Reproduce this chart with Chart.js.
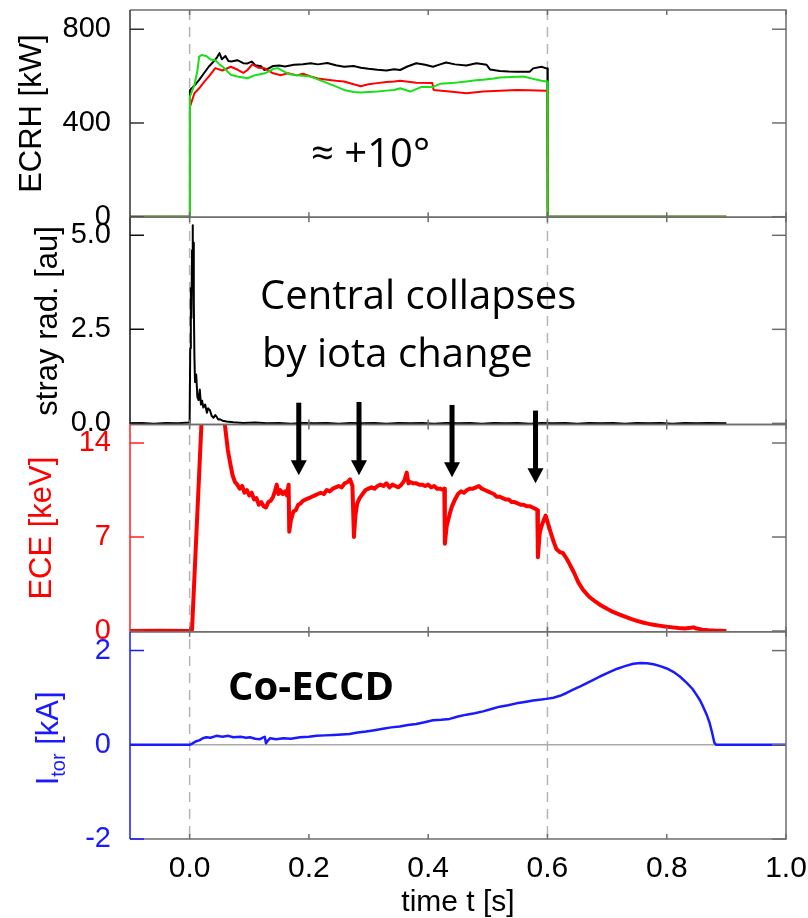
<!DOCTYPE html>
<html>
<head>
<meta charset="utf-8">
<title>ECRH / ECE / Itor</title>
<script src="https://cdn.jsdelivr.net/npm/chart.js@4.4.1/dist/chart.umd.min.js"></script>
<style>
    html, body { margin: 0; padding: 0; background: #ffffff; }
    canvas { display: block; }
</style>
</head>
<body>
<canvas id="myChart_descarga" width="808" height="918"></canvas>
<script>
// ---------------- datos: [tiempo (s), valor] ----------------
const ecrhNegro = [[-0.1,0],[0.0,0],[0.0005,540],[0.005,552],[0.01,566],[0.016,584],[0.024,612],[0.032,640],[0.04,662],[0.046,680],[0.05,698],[0.054,672],[0.06,686],[0.065,664],[0.07,662],[0.08,668],[0.09,655],[0.097,654],[0.104,662],[0.11,646],[0.12,642],[0.125,626],[0.13,630],[0.14,643],[0.15,645],[0.16,641],[0.175,648],[0.19,651],[0.203,655],[0.215,650],[0.231,656],[0.245,646],[0.259,640],[0.275,643],[0.287,636],[0.3,631],[0.315,627],[0.33,624],[0.343,629],[0.353,626],[0.365,641],[0.38,655],[0.395,648],[0.408,640],[0.42,650],[0.43,658],[0.445,650],[0.464,645],[0.481,655],[0.498,648],[0.504,628],[0.52,622],[0.535,620],[0.548,619],[0.57,618],[0.576,633],[0.59,640],[0.598,633],[0.6,632],[0.6005,0],[0.9,0]];
const ecrhRojo = [[-0.1,0],[0.0,0],[0.0005,468],[0.008,527],[0.016,548],[0.024,574],[0.032,598],[0.043,634],[0.055,624],[0.069,640],[0.08,628],[0.09,614],[0.097,626],[0.105,650],[0.115,636],[0.126,633],[0.14,612],[0.153,604],[0.165,612],[0.18,603],[0.19,610],[0.203,598],[0.215,590],[0.231,584],[0.245,580],[0.259,577],[0.275,565],[0.287,557],[0.3,565],[0.315,570],[0.33,575],[0.343,577],[0.353,580],[0.38,572],[0.407,570],[0.409,541],[0.436,534],[0.464,527],[0.48,531],[0.492,534],[0.52,537],[0.548,541],[0.57,540],[0.598,537],[0.6,537],[0.6005,0],[0.9,0]];
const ecrhVerde = [[-0.1,0],[0.0,0],[0.0005,512],[0.008,562],[0.013,622],[0.016,683],[0.02,690],[0.028,686],[0.035,671],[0.043,668],[0.05,650],[0.055,641],[0.069,606],[0.08,598],[0.097,591],[0.11,604],[0.126,612],[0.14,630],[0.147,634],[0.153,627],[0.165,610],[0.175,605],[0.19,601],[0.203,598],[0.215,586],[0.231,570],[0.245,556],[0.259,541],[0.275,532],[0.287,530],[0.3,532],[0.315,534],[0.33,538],[0.343,541],[0.353,548],[0.37,534],[0.388,553],[0.407,553],[0.42,567],[0.44,570],[0.464,577],[0.48,582],[0.492,584],[0.51,590],[0.52,594],[0.54,596],[0.56,598],[0.576,588],[0.59,580],[0.598,577],[0.6,577],[0.6005,0],[0.9,0]];

const radiacion = [[-0.1,0],[-0.08,0.01],[-0.06,-0.01],[-0.04,0.01],[-0.02,0],[0,0.02],[0.001,2.0],[0.002,3.6],[0.003,2.8],[0.004,4.6],[0.005,5.27],[0.0055,4.2],[0.006,4.8],[0.007,3.2],[0.008,1.8],[0.009,1.1],[0.011,1.3],[0.013,0.7],[0.015,0.62],[0.017,0.9],[0.019,0.5],[0.021,0.6],[0.023,0.42],[0.026,0.5],[0.029,0.28],[0.031,0.4],[0.034,0.35],[0.037,0.2],[0.04,0.15],[0.043,0.22],[0.045,0.18],[0.048,0.1],[0.051,0.11],[0.055,0.07],[0.062,0.05],[0.073,0.03],[0.09,0.01],[0.11,0.02],[0.13,0],[0.15,0.01],[0.17,-0.01],[0.19,0.01],[0.21,0],[0.23,0.01],[0.25,-0.01],[0.27,0.01],[0.29,0],[0.31,0.01],[0.33,-0.01],[0.35,0.01],[0.37,0],[0.39,0.01],[0.41,-0.01],[0.43,0.01],[0.45,0],[0.47,0.01],[0.49,-0.01],[0.51,0.01],[0.53,0],[0.55,0.01],[0.57,-0.01],[0.59,0.01],[0.61,0],[0.63,0.01],[0.65,-0.01],[0.67,0.01],[0.69,0],[0.71,0.01],[0.73,-0.01],[0.75,0.01],[0.77,0],[0.79,0.01],[0.81,-0.01],[0.83,0.01],[0.85,0],[0.87,0.01],[0.9,0]];

const ece = [[-0.1,0],[-0.05,0.02],[0.0,0],[0.004,0.1],[0.02,15.6],[0.03,16.5],[0.045,16.5],[0.055,16.0],[0.059,15.4],[0.064,13.5],[0.068,12.5],[0.072,11.6],[0.076,11.1],[0.08,10.9],[0.084,10.6],[0.088,10.8],[0.092,10.3],[0.096,10.5],[0.1,10.1],[0.104,10.3],[0.108,9.8],[0.112,9.9],[0.116,9.4],[0.12,9.6],[0.124,9.3],[0.128,9.2],[0.132,9.6],[0.136,9.7],[0.14,10.0],[0.143,10.4],[0.146,10.9],[0.149,10.2],[0.152,10.5],[0.156,10.2],[0.16,10.4],[0.163,10.1],[0.166,10.9],[0.167,7.4],[0.17,8.3],[0.174,8.9],[0.178,9.0],[0.182,9.4],[0.186,9.5],[0.19,9.7],[0.195,9.8],[0.2,9.9],[0.205,10.0],[0.21,10.1],[0.215,10.2],[0.22,10.3],[0.225,10.2],[0.23,10.5],[0.235,10.4],[0.24,10.6],[0.245,10.7],[0.25,10.8],[0.255,10.7],[0.26,11.0],[0.265,11.1],[0.269,11.3],[0.273,10.8],[0.2755,7.0],[0.278,8.6],[0.281,9.5],[0.285,9.9],[0.29,10.2],[0.295,10.5],[0.3,10.6],[0.305,10.7],[0.31,10.6],[0.315,10.8],[0.32,10.9],[0.325,10.8],[0.33,11.0],[0.335,10.7],[0.34,10.9],[0.345,10.8],[0.35,10.7],[0.355,10.9],[0.36,11.2],[0.364,11.8],[0.367,11.0],[0.37,11.1],[0.375,11.0],[0.38,11.0],[0.385,10.9],[0.39,10.9],[0.395,10.8],[0.4,10.9],[0.405,10.7],[0.41,10.8],[0.415,10.6],[0.42,10.6],[0.425,10.5],[0.427,10.6],[0.428,6.5],[0.431,7.8],[0.436,8.7],[0.44,9.3],[0.445,9.8],[0.45,10.2],[0.455,10.4],[0.46,10.3],[0.465,10.5],[0.47,10.6],[0.475,10.6],[0.48,10.7],[0.485,10.8],[0.49,10.6],[0.495,10.5],[0.5,10.4],[0.505,10.3],[0.51,10.2],[0.515,10.0],[0.52,10.0],[0.525,9.9],[0.53,9.8],[0.535,9.8],[0.54,9.6],[0.545,9.6],[0.55,9.5],[0.555,9.4],[0.56,9.4],[0.565,9.3],[0.57,9.3],[0.575,9.2],[0.58,9.1],[0.583,9.0],[0.584,5.5],[0.587,7.3],[0.59,7.8],[0.594,8.3],[0.597,8.6],[0.601,8.0],[0.605,7.4],[0.61,6.7],[0.615,6.1],[0.62,5.9],[0.626,5.8],[0.632,5.4],[0.637,5.0],[0.645,4.3],[0.652,3.6],[0.66,3.05],[0.67,2.55],[0.68,2.2],[0.69,1.9],[0.7,1.65],[0.71,1.42],[0.72,1.24],[0.73,1.07],[0.74,0.9],[0.75,0.76],[0.76,0.63],[0.77,0.53],[0.78,0.45],[0.79,0.38],[0.8,0.32],[0.81,0.27],[0.82,0.22],[0.83,0.19],[0.84,0.24],[0.845,0.27],[0.85,0.18],[0.86,0.1],[0.87,0.06],[0.88,0.03],[0.9,0.0]];

const corriente = [[-0.1,0],[0,0],[0.005,0.03],[0.01,0.07],[0.017,0.1],[0.022,0.14],[0.028,0.16],[0.035,0.15],[0.045,0.19],[0.055,0.17],[0.065,0.19],[0.073,0.16],[0.085,0.17],[0.095,0.15],[0.101,0.16],[0.11,0.13],[0.118,0.12],[0.124,0.16],[0.126,0.17],[0.128,0.03],[0.132,0.1],[0.135,0.14],[0.145,0.12],[0.157,0.14],[0.17,0.13],[0.185,0.16],[0.2,0.17],[0.213,0.19],[0.227,0.2],[0.241,0.21],[0.255,0.22],[0.268,0.23],[0.282,0.26],[0.296,0.28],[0.31,0.31],[0.324,0.34],[0.338,0.37],[0.352,0.39],[0.366,0.42],[0.38,0.44],[0.394,0.48],[0.408,0.52],[0.422,0.53],[0.436,0.55],[0.45,0.6],[0.464,0.64],[0.478,0.67],[0.492,0.71],[0.506,0.76],[0.52,0.81],[0.534,0.84],[0.548,0.88],[0.562,0.91],[0.576,0.94],[0.59,0.96],[0.598,0.975],[0.61,1.0],[0.621,1.04],[0.632,1.1],[0.643,1.17],[0.655,1.24],[0.666,1.31],[0.677,1.38],[0.688,1.45],[0.702,1.53],[0.716,1.61],[0.73,1.67],[0.744,1.72],[0.756,1.735],[0.767,1.73],[0.778,1.71],[0.789,1.67],[0.8,1.62],[0.811,1.55],[0.822,1.45],[0.834,1.31],[0.843,1.19],[0.85,1.06],[0.856,0.94],[0.861,0.81],[0.867,0.64],[0.872,0.46],[0.876,0.26],[0.88,0.04],[0.883,0.0],[0.95,0.0],[1.0,0.0]];
const lineaCero = [[-0.1,0],[1.0,0]];

// ticks de los ejes
const ticksTiempo = [0.0, 0.2, 0.4, 0.6, 0.8, 1.0];
const ticksEcrh = [0, 400, 800];
const ticksRadiacion = [0.0, 2.5, 5.0];
const ticksEce = [0, 7, 14];
const ticksCorriente = [-2, 0, 2];

// lineas discontinuas y flechas (colapsos centrales)
const lineasDiscontinuas = [0.0, 0.6];
const flechasTiempo = [0.183, 0.284, 0.440, 0.580];
const flechasInicio = [0.55, 0.57, 0.49, 0.34];   // en unidades de stray rad.
const flechasPunta = [11.6, 11.6, 11.45, 11.0];   // en keV (ECE)

function serie(pares) {
    return pares.map(p => ({ x: p[0], y: p[1] }));
}

document.addEventListener("DOMContentLoaded", function() {
    inicializarGrafica();
});

function inicializarGrafica() {
    const ctx = document.getElementById('myChart_descarga').getContext('2d');
    Chart.defaults.font.family = "'Liberation Sans', Arial, sans-serif";

    const panelColor = { y1: '#333333', y2: '#111111', y3: '#ff2020', y4: '#1a1aff' };
    const titulos = [
        { eje: 'y1', texto: 'ECRH [kW]', color: '#000000', x: 41 },
        { eje: 'y2', texto: 'stray rad. [au]', color: '#000000', x: 57 },
        { eje: 'y3', texto: 'ECE [keV]', color: '#ff0000', x: 51 }
    ];

    // ejes y apilados: uno por panel
    function ejePanel(min, max, peso, valores, color, decimales) {
        return {
            type: 'linear',
            position: 'left',
            stack: 'paneles',
            stackWeight: 1,
            weight: peso,
            min: min,
            max: max,
            grid: { display: false },
            border: { display: false },
            afterBuildTicks: s => { s.ticks = valores.map(v => ({ value: v })); },
            afterFit: s => { s.width = 130; s.paddingTop = 0; s.paddingBottom = 0; },
            ticks: {
                color: color,
                padding: 11,
                font: { size: 29 },
                callback: v => v.toFixed(decimales)
            }
        };
    }

    // plugin: recorte por panel, marcos, ticks interiores, flechas y textos
    const marcos = {
        id: 'marcos',
        beforeDatasetsDraw(chart) {
            const { ctx, chartArea, scales } = chart;
            ctx.save();
            ctx.strokeStyle = '#b4b4b4';
            ctx.lineWidth = 1.5;
            ctx.setLineDash([10, 7]);
            lineasDiscontinuas.forEach(t => {
                const px = scales.x.getPixelForValue(t);
                ctx.beginPath();
                ctx.moveTo(px, chartArea.top);
                ctx.lineTo(px, chartArea.bottom);
                ctx.stroke();
            });
            ctx.restore();
        },
        beforeDatasetDraw(chart, args) {
            const { ctx, chartArea } = chart;
            const s = chart.scales[args.meta.yAxisID];
            ctx.save();
            ctx.beginPath();
            ctx.rect(chartArea.left, s.top - 1, chartArea.right - chartArea.left, s.bottom - s.top + 2);
            ctx.clip();
        },
        afterDatasetDraw(chart) {
            chart.ctx.restore();
        },
        afterDatasetsDraw(chart) {
            const { ctx, chartArea, scales } = chart;
            const izq = chartArea.left, der = chartArea.right;
            ctx.save();
            ['y1', 'y2', 'y3', 'y4'].forEach(id => {
                const s = scales[id];
                // marco gris
                ctx.strokeStyle = '#6e6e6e';
                ctx.lineWidth = 1.5;
                ctx.beginPath();
                ctx.moveTo(izq, s.top); ctx.lineTo(der, s.top);
                ctx.lineTo(der, s.bottom); ctx.lineTo(izq, s.bottom);
                ctx.stroke();
                // ticks de tiempo hacia dentro
                ticksTiempo.forEach(t => {
                    const px = scales.x.getPixelForValue(t);
                    ctx.beginPath();
                    ctx.moveTo(px, s.top); ctx.lineTo(px, s.top + 5);
                    ctx.moveTo(px, s.bottom); ctx.lineTo(px, s.bottom - 5);
                    ctx.stroke();
                });
                // ticks derechos
                s.ticks.forEach(tk => {
                    const py = s.getPixelForValue(tk.value);
                    ctx.beginPath();
                    ctx.moveTo(der, py); ctx.lineTo(der - 14, py);
                    ctx.stroke();
                });
                // eje izquierdo en el color del panel
                ctx.strokeStyle = panelColor[id];
                ctx.beginPath();
                ctx.moveTo(izq, s.top); ctx.lineTo(izq, s.bottom);
                s.ticks.forEach(tk => {
                    const py = s.getPixelForValue(tk.value);
                    ctx.moveTo(izq, py); ctx.lineTo(izq + 14, py);
                });
                ctx.stroke();
            });

            // flechas de los colapsos
            ctx.fillStyle = '#000000';
            flechasTiempo.forEach((t, i) => {
                const px = scales.x.getPixelForValue(t);
                const y0 = scales.y2.getPixelForValue(flechasInicio[i]);
                const y1 = scales.y3.getPixelForValue(flechasPunta[i]);
                ctx.fillRect(px - 2.5, y0, 5, y1 - y0 - 14);
                ctx.beginPath();
                ctx.moveTo(px - 8, y1 - 15);
                ctx.lineTo(px + 8, y1 - 15);
                ctx.lineTo(px, y1);
                ctx.closePath();
                ctx.fill();
            });

            // textos dentro de los paneles
            ctx.textAlign = 'left';
            ctx.textBaseline = 'alphabetic';
            ctx.font = "40px 'Open Sans', sans-serif";
            ctx.fillText('\u2248 +10\u00b0', scales.x.getPixelForValue(0.2036), scales.y1.getPixelForValue(212));
            ctx.fillText('Central collapses', scales.x.getPixelForValue(0.118), scales.y2.getPixelForValue(3.04));
            ctx.fillText('by iota change', scales.x.getPixelForValue(0.1214), scales.y2.getPixelForValue(1.50));
            ctx.font = "bold 40px 'Open Sans', sans-serif";
            ctx.fillText('Co-ECCD', scales.x.getPixelForValue(0.0644), scales.y4.getPixelForValue(0.954));

            // titulos de los ejes y (rotados)
            ctx.font = "31px 'Liberation Sans', Arial, sans-serif";
            ctx.textAlign = 'center';
            titulos.forEach(tt => {
                const s = scales[tt.eje];
                ctx.save();
                ctx.translate(tt.x, (s.top + s.bottom) / 2);
                ctx.rotate(-Math.PI / 2);
                ctx.fillStyle = tt.color;
                ctx.fillText(tt.texto, 0, 0);
                ctx.restore();
            });
            // I_tor [kA] con subindice
            const s4 = scales.y4;
            ctx.save();
            ctx.translate(58, (s4.top + s4.bottom) / 2 + 3);
            ctx.rotate(-Math.PI / 2);
            ctx.fillStyle = '#1a1aff';
            ctx.textAlign = 'left';
            ctx.font = "31px 'Liberation Sans', Arial, sans-serif";
            const wI = ctx.measureText('I').width;
            const wK = ctx.measureText(' [kA]').width;
            ctx.font = "20px 'Liberation Sans', Arial, sans-serif";
            const wSub = ctx.measureText('tor').width;
            const inicio = -(wI + wSub + wK) / 2;
            ctx.font = "31px 'Liberation Sans', Arial, sans-serif";
            ctx.fillText('I', inicio, 0);
            ctx.fillText(' [kA]', inicio + wI + wSub, 0);
            ctx.font = "20px 'Liberation Sans', Arial, sans-serif";
            ctx.fillText('tor', inicio + wI, 7);
            ctx.restore();

            // titulo del eje x
            ctx.fillStyle = '#000000';
            ctx.textAlign = 'center';
            ctx.font = "30px 'Liberation Sans', Arial, sans-serif";
            ctx.fillText('time t [s]', (izq + der) / 2, 911);
            ctx.restore();
        }
    };

    new Chart(ctx, {
        type: 'line',
        data: {
            datasets: [
                { label: 'ECRH verde', data: serie(ecrhVerde), yAxisID: 'y1', borderColor: '#17e017', borderWidth: 2, order: 1 },
                { label: 'ECRH rojo', data: serie(ecrhRojo), yAxisID: 'y1', borderColor: '#ff0000', borderWidth: 2, order: 2 },
                { label: 'ECRH negro', data: serie(ecrhNegro), yAxisID: 'y1', borderColor: '#000000', borderWidth: 2, order: 3 },
                { label: 'stray rad.', data: serie(radiacion), yAxisID: 'y2', borderColor: '#000000', borderWidth: 2, order: 4 },
                { label: 'ECE', data: serie(ece), yAxisID: 'y3', borderColor: '#ff0000', borderWidth: 4, order: 5 },
                { label: 'Itor', data: serie(corriente), yAxisID: 'y4', borderColor: '#1a1aff', borderWidth: 2.5, order: 6 },
                { label: 'cero', data: serie(lineaCero), yAxisID: 'y4', borderColor: '#aaaaaa', borderWidth: 1.5, order: 10 }
            ]
        },
        options: {
            responsive: false,
            animation: false,
            layout: { padding: { top: 10, right: 22, left: 0, bottom: 0 } },
            plugins: {
                legend: { display: false },
                tooltip: { enabled: false }
            },
            elements: {
                point: { radius: 0 },
                line: { tension: 0, borderJoinStyle: 'round' }
            },
            scales: {
                x: {
                    type: 'linear',
                    min: -0.1,
                    max: 1.0,
                    grid: { display: false },
                    border: { display: false },
                    afterBuildTicks: s => { s.ticks = ticksTiempo.map(v => ({ value: v })); },
                    afterFit: s => { s.height = 79; s.paddingLeft = 0; s.paddingRight = 0; },
                    ticks: {
                        autoSkip: false,
                        maxRotation: 0,
                        padding: 4,
                        color: '#000000',
                        font: { size: 30 },
                        callback: v => v.toFixed(1)
                    }
                },
                y1: ejePanel(-2.3, 882, 4, ticksEcrh, '#000000', 0),
                y2: ejePanel(-0.03, 5.48, 3, ticksRadiacion, '#000000', 1),
                y3: ejePanel(-0.056, 15.38, 2, ticksEce, '#ff0000', 0),
                y4: ejePanel(-2.0, 2.40, 1, ticksCorriente, '#1a1aff', 0)
            }
        },
        plugins: [marcos]
    });
}
</script>
</body>
</html>
